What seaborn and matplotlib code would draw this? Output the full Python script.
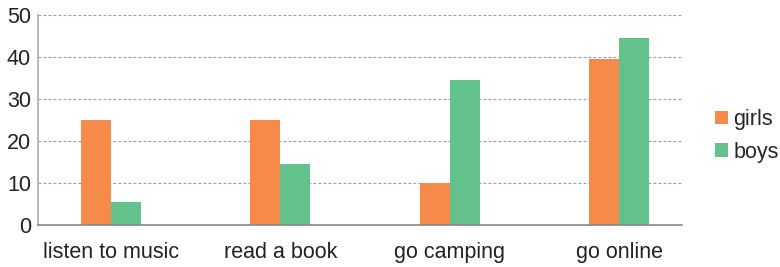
import matplotlib
matplotlib.use("Agg")
import matplotlib.pyplot as plt
import seaborn as sns
import pandas as pd

categories = ["listen to music", "read a book", "go camping", "go online"]
girls = [25, 25, 10, 39.5]
boys = [5.5, 14.5, 34.5, 44.5]
series = ["girls", "boys"]
yticks = [0, 10, 20, 30, 40, 50]

df = pd.DataFrame({
    "activity": categories * 2,
    "value": girls + boys,
    "group": ["girls"] * len(categories) + ["boys"] * len(categories),
})

sns.set_style("white")
plt.rcParams["font.family"] = ["Liberation Sans", "DejaVu Sans"]

fig = plt.figure(figsize=(7.8, 2.67), dpi=100)
ax = fig.add_axes([38 / 780, 1 - 225 / 267, (682 - 38) / 780, (225 - 14.7) / 267])

palette = {"girls": "#F58A4A", "boys": "#63C28C"}
sns.barplot(data=df, x="activity", y="value", hue="group", hue_order=series,
            order=categories, palette=palette, width=0.354, gap=0,
            saturation=1, ax=ax, linewidth=0, edgecolor="none")

ax.set_ylim(0, 50)
ax.set_xlim(-0.43, 3.37)
ax.set_yticks(yticks)
ax.set_yticklabels([str(t) for t in yticks], fontsize=15.5, color="#222222")
ax.tick_params(axis="both", length=0, pad=4)
ax.tick_params(axis="y", pad=5)
ax.tick_params(axis="x", labelsize=15.5, labelcolor="#222222", pad=12)
ax.set_xlabel("")
ax.set_ylabel("")

for t in yticks[1:]:
    ax.axhline(t, color="#999999", linestyle=(0, (2.5, 2)), linewidth=0.8, zorder=0)

for s in ["top", "right"]:
    ax.spines[s].set_visible(False)
ax.spines["left"].set_color("#BBBBBB")
ax.spines["left"].set_linewidth(1.5)
ax.spines["bottom"].set_color("#888888")
ax.spines["bottom"].set_linewidth(1.2)

handles, labels = ax.get_legend_handles_labels()
ax.legend(handles, labels, loc="center left", bbox_to_anchor=(715 / 780, 1 - 136 / 267),
          bbox_transform=fig.transFigure, frameon=False, fontsize=15.5,
          handlelength=0.6, handleheight=0.6, handletextpad=0.25, labelspacing=0.55,
          borderpad=0, borderaxespad=0)

fig.savefig("out.png", dpi=100)
